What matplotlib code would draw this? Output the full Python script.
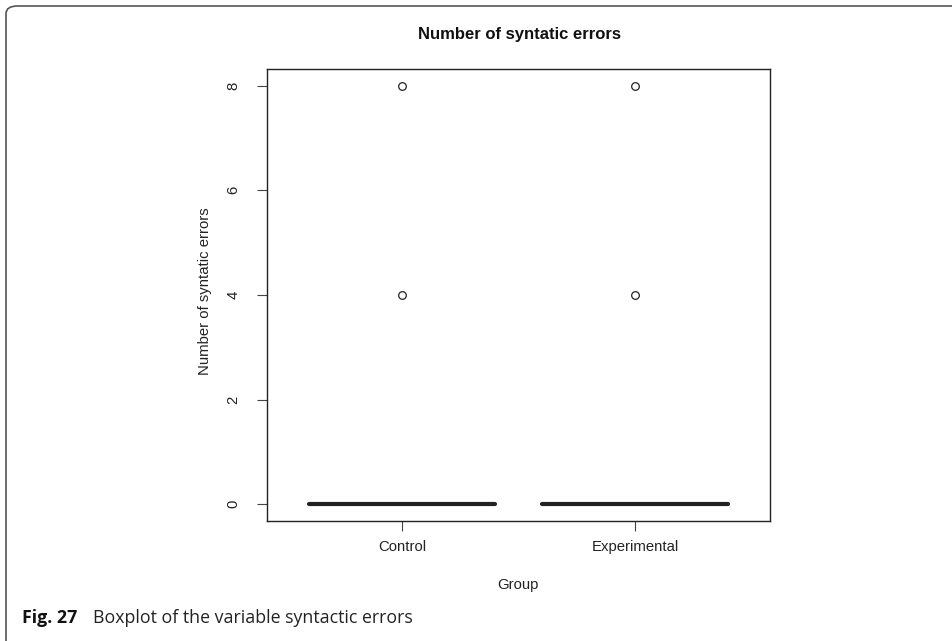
import matplotlib
matplotlib.use("Agg")
import matplotlib.pyplot as plt
from matplotlib.patches import FancyBboxPatch
import numpy as np

groups = ["Control", "Experimental"]
control_errors = [0] * 13 + [4, 8]
experimental_errors = [0] * 13 + [4, 8]
yticks = [0, 2, 4, 6, 8]

W, H = 952, 641
fig = plt.figure(figsize=(W / 100, H / 100), dpi=100)
ax = fig.add_axes([267 / W, 1 - 521 / H, (770 - 267) / W, (521 - 69) / H])

font = "Liberation Sans"
ink = "#222222"
fs = 10.7
bp = ax.boxplot([control_errors, experimental_errors], positions=[1, 2], widths=0.8,
                whis=1.5, patch_artist=False,
                medianprops=dict(color=ink, linewidth=3, solid_capstyle="round"),
                boxprops=dict(color=ink, linewidth=1),
                whiskerprops=dict(color=ink, linewidth=1, linestyle="--"),
                capprops=dict(color=ink, linewidth=1),
                flierprops=dict(marker="o", markerfacecolor="none", markeredgecolor=ink,
                                markersize=5.5, markeredgewidth=0.9))

ax.set_xlim(0.42, 2.58)
ax.set_ylim(-0.32, 8.32)
ax.set_xticks([1, 2])
ax.set_xticklabels(groups, fontfamily=font, fontsize=fs, color=ink)
ax.set_yticks(yticks)
ax.set_yticklabels([str(v) for v in yticks], fontfamily=font, fontsize=fs, color=ink,
                   rotation=90, va="center")
ax.tick_params(axis="both", direction="out", length=7, width=0.8, color="#444444")
ax.tick_params(axis="x", pad=7)
ax.tick_params(axis="y", pad=12)
for s in ax.spines.values():
    s.set_linewidth(1)
    s.set_color(ink)

fig.text(205 / W, 1 - 291 / H, "Number of syntatic errors", fontfamily=font, fontsize=fs,
         color=ink, rotation=90, ha="center", va="center")
fig.text(518 / W, 1 - 585 / H, "Group", fontfamily=font, fontsize=fs, color=ink,
         ha="center", va="center")
fig.text(519 / W, 1 - 35 / H, "Number of syntatic errors", fontfamily=font, fontsize=12,
         fontweight="bold", ha="center", va="center", color="#111111")

# caption
fig.text(22 / W, 1 - 618 / H, "Fig. 27", fontfamily="Open Sans", fontsize=12.8,
         fontweight="bold", ha="left", va="center", color="#111111")
fig.text(93 / W, 1 - 618 / H, "Boxplot of the variable syntactic errors", fontfamily="Open Sans",
         fontsize=12.8, ha="left", va="center", color=ink)

# frame (rounded top-left corner)
frame = FancyBboxPatch((6 / W, -20 / H), (W + 40) / W, (H + 20 - 6) / H,
                       boxstyle="round,pad=0,rounding_size=0.012",
                       transform=fig.transFigure, fill=False, edgecolor="#555555",
                       linewidth=1.2, clip_on=False)
fig.patches.append(frame)

fig.savefig("out.png", dpi=100)
